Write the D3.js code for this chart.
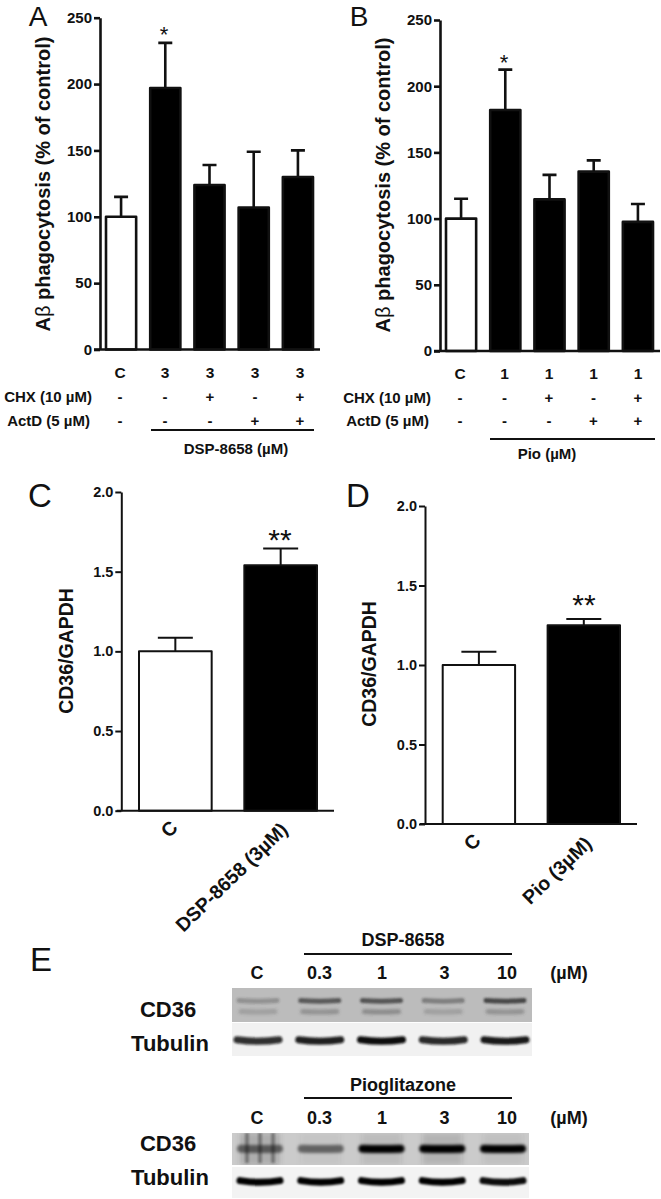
<!DOCTYPE html>
<html>
<head>
<meta charset="utf-8">
<style>
  html, body { margin: 0; padding: 0; background: #fff; }
  svg { display: block; }
  text { font-family: "Liberation Sans", Arial, sans-serif; fill: #111; }
</style>
</head>
<body>
<svg width="661" height="1199"></svg>
<script src="https://cdn.jsdelivr.net/npm/d3@7"></script>
<script>
/* -------------------------
   DATA
--------------------------*/
const groupsAB = ["C", "T1", "T2", "T3", "T4"];

const valuesA = [100, 197, 124, 107, 130];
const errorsA = [115, 231, 139, 149, 150];
const doseA = ["C", "3", "3", "3", "3"];

const valuesB = [100, 182, 114.5, 135.5, 97.5];
const errorsB = [115, 212.5, 133, 144, 111];
const doseB = ["C", "1", "1", "1", "1"];

const chxRow = ["-", "-", "+", "-", "+"];
const actdRow = ["-", "-", "-", "+", "+"];

const ticksAB = [0, 50, 100, 150, 200, 250];
const ticksCD = [0, 0.5, 1, 1.5, 2];

const groupsCD = ["C", "T"];
const valuesC = [1.0, 1.54];
const errorsC = [1.086, 1.645];
const valuesD = [1.0, 1.25];
const errorsD = [1.083, 1.29];

const blotDoses = ["C", "0.3", "1", "3", "10"];
// band darkness per lane, 0-1
const cd36UpperTop = [0.3, 0.72, 0.75, 0.45, 0.85];
const cd36LowerTop = [0.25, 0.35, 0.4, 0.25, 0.35];
const tubulinTop = [0.85, 0.92, 1, 0.88, 0.95];
const cd36Bottom = [0.5, 0.5, 1, 1, 1];
const smearBottom = [0.2, 0.05, 0.1, 0.15, 0.08];
const tubulinBottom = [1, 1, 1, 1, 0.95];

/* -------------------------
   HELPERS
--------------------------*/
const svg = d3.select("svg");

const defs = svg.append("defs");
[["blur1", 1.7], ["blur2", 2.6], ["blur3", 1.1]].forEach(([id, s]) => {
  defs.append("filter").attr("id", id)
    .attr("filterUnits", "userSpaceOnUse")
    .attr("x", 200).attr("y", 960).attr("width", 400).attr("height", 239)
    .append("feGaussianBlur").attr("stdDeviation", s);
});

function label(g, x, y, str, size, bold = true, anchor = "middle") {
  return g.append("text")
    .attr("x", x).attr("y", y)
    .attr("dy", "0.35em")
    .attr("text-anchor", anchor)
    .style("font-size", size + "px")
    .style("font-weight", bold ? "bold" : "normal")
    .text(str);
}

function hline(g, x1, x2, y, w) {
  g.append("line").attr("x1", x1).attr("x2", x2).attr("y1", y).attr("y2", y)
    .attr("stroke", "#111").attr("stroke-width", w);
}

/* -------------------------
   BAR PANEL
--------------------------*/
function barPanel(p) {
  const g = svg.append("g");
  const y = d3.scaleLinear().domain(p.domain).range([p.y0, p.yTop]);
  const x = d3.scaleBand().domain(p.groups).range(p.barRange).paddingInner(p.inner);

  const axis = d3.axisLeft(y)
    .tickValues(p.ticks)
    .tickSize(6)
    .tickPadding(p.tickPad)
    .tickSizeOuter(0)
    .tickFormat(p.format);

  const ax = g.append("g").attr("transform", `translate(${p.axisX},0)`).call(axis);
  ax.selectAll("path, line").attr("stroke", "#111").attr("stroke-width", p.lw);
  ax.selectAll("text")
    .style("font-size", p.tickSize + "px")
    .style("font-weight", "bold")
    .style("font-family", '"Liberation Sans", Arial, sans-serif');

  // error bars go behind the bars
  g.selectAll(".err").data(p.groups).enter().append("path")
    .attr("fill", "none")
    .attr("stroke", "#111")
    .attr("stroke-width", p.lw)
    .attr("d", (d, i) => {
      const cx = x(d) + x.bandwidth() / 2;
      const path = d3.path();
      path.moveTo(cx, y(p.values[i]));
      path.lineTo(cx, y(p.errors[i]));
      path.moveTo(cx - p.cap / 2, y(p.errors[i]));
      path.lineTo(cx + p.cap / 2, y(p.errors[i]));
      return path.toString();
    });

  g.selectAll(".bar").data(p.groups).enter().append("rect")
    .attr("x", d => x(d))
    .attr("width", x.bandwidth())
    .attr("y", (d, i) => y(p.values[i]))
    .attr("height", (d, i) => y(0) - y(p.values[i]))
    .attr("fill", (d, i) => i === 0 ? "#fff" : "#000")
    .attr("stroke", "#111")
    .attr("stroke-width", p.lw)
    .attr("stroke-linejoin", "round");

  hline(g, p.baseline[0], p.baseline[1], p.y0, p.lw);

  // y title
  g.append("text")
    .attr("transform", `translate(${p.titleX},${p.titleY}) rotate(-90)`)
    .attr("text-anchor", "middle")
    .attr("dy", "0.35em")
    .style("font-size", p.titleSize + "px")
    .style("font-weight", "bold")
    .call(t => {
      p.title.forEach(([s, b]) => {
        t.append("tspan").style("font-weight", b ? "bold" : "normal").text(s);
      });
    });

  label(g, p.star[0], p.star[1], p.starText, p.starSize, false);
  return { g, x, y };
}

const fmt0 = d3.format("d");
const fmt1 = d3.format(".1f");
const titleAB = [["A", true], ["β", false], [" phagocytosis (% of control)", true]];
const titleCD = [["CD36/GAPDH", true]];

function rowsAB(g, xs, dose, rowY, labelX) {
  groupsAB.forEach((d, i) => {
    label(g, xs(d), rowY[0], dose[i], 15.5);
    label(g, xs(d), rowY[1], chxRow[i], 15);
    label(g, xs(d), rowY[2], actdRow[i], 15);
  });
  label(g, labelX, rowY[1], "CHX (10 µM)", 15, true, "end");
  label(g, labelX - 2, rowY[2], "ActD (5 µM)", 15, true, "end");
}

/* -------------------------
   PANEL A
--------------------------*/
const panelA = barPanel({
  groups: groupsAB, values: valuesA, errors: errorsA, ticks: ticksAB,
  domain: [0, 250], y0: 349.5, yTop: 17.7, axisX: 100, barRange: [106, 313], inner: 0.318,
  baseline: [94, 320], lw: 2.6, cap: 14, tickSize: 15, tickPad: 2, format: fmt0,
  title: titleAB, titleX: 43, titleY: 184, titleSize: 20,
  star: [164, 34], starText: "*", starSize: 22
});
rowsAB(panelA.g, d3.scalePoint().domain(groupsAB).range([120, 300]), doseA, [373, 397, 421], 92);
hline(panelA.g, 151, 314, 430, 2);
label(panelA.g, 236, 449, "DSP-8658 (µM)", 15);
label(svg, 38, 16, "A", 28, false);

/* -------------------------
   PANEL B
--------------------------*/
const panelB = barPanel({
  groups: groupsAB, values: valuesB, errors: errorsB, ticks: ticksAB,
  domain: [0, 250], y0: 351, yTop: 20, axisX: 440, barRange: [446, 653], inner: 0.318,
  baseline: [434, 660], lw: 2.6, cap: 14, tickSize: 15, tickPad: 2, format: fmt0,
  title: titleAB, titleX: 383, titleY: 185, titleSize: 20,
  star: [504, 62], starText: "*", starSize: 22
});
rowsAB(panelB.g, d3.scalePoint().domain(groupsAB).range([460, 638]), doseB, [374, 398, 421], 431);
hline(panelB.g, 490, 655, 439, 2);
label(panelB.g, 547, 454, "Pio (µM)", 15);
label(svg, 359, 16, "B", 28, false);

/* -------------------------
   PANELS C, D
--------------------------*/
function rotated(g, x, y, str, size) {
  g.append("text")
    .attr("transform", `translate(${x},${y}) rotate(-44)`)
    .attr("text-anchor", "end")
    .style("font-size", size + "px")
    .style("font-weight", "bold")
    .text(str);
}

const panelC = barPanel({
  groups: groupsCD, values: valuesC, errors: errorsC, ticks: ticksCD,
  domain: [0, 2], y0: 810.7, yTop: 492, axisX: 121.3, barRange: [139, 317], inner: 0.31,
  baseline: [116.7, 334], lw: 2, cap: 35, tickSize: 14.5, tickPad: 2, format: fmt1,
  title: titleCD, titleX: 65.7, titleY: 651, titleSize: 19.5,
  star: [280, 539], starText: "**", starSize: 30
});
rotated(panelC.g, 179, 829, "C", 19.5);
rotated(panelC.g, 289, 831, "DSP-8658 (3µM)", 19.5);
label(svg, 40, 495, "C", 33, false);

const panelD = barPanel({
  groups: groupsCD, values: valuesD, errors: errorsD, ticks: ticksCD,
  domain: [0, 2], y0: 824, yTop: 506, axisX: 425, barRange: [442.7, 620], inner: 0.31,
  baseline: [420, 637], lw: 2, cap: 35, tickSize: 14.5, tickPad: 2, format: fmt1,
  title: titleCD, titleX: 369, titleY: 664, titleSize: 19.5,
  star: [584, 604], starText: "**", starSize: 30
});
rotated(panelD.g, 482, 842, "C", 19.5);
rotated(panelD.g, 593, 845, "Pio (3µM)", 19.5);
label(svg, 358, 495, "D", 33, false);

/* -------------------------
   PANEL E (BLOTS)
--------------------------*/
label(svg, 41, 959, "E", 33, false);

function blot(g, x0, x1, y0, y1, bg, clipId) {
  defs.append("clipPath").attr("id", clipId)
    .append("rect").attr("x", x0).attr("y", y0).attr("width", x1 - x0).attr("height", y1 - y0);
  g.append("rect").attr("x", x0).attr("y", y0).attr("width", x1 - x0).attr("height", y1 - y0)
    .attr("fill", bg);
  return g.append("g").attr("clip-path", `url(#${clipId})`);
}

// one band per lane: a curved stroke, blurred, darker for higher values
function bands(g, lanes, vals, yc, halfW, thick, sag, blurId, color = "#000") {
  g.append("g").attr("filter", `url(#${blurId})`)
    .selectAll("path").data(blotDoses).enter().append("path")
    .attr("fill", "none")
    .attr("stroke", color)
    .attr("stroke-width", thick)
    .attr("stroke-linecap", "round")
    .attr("opacity", (d, i) => vals[i])
    .attr("d", d => {
      const cx = lanes(d), path = d3.path();
      path.moveTo(cx - halfW, yc - sag);
      path.quadraticCurveTo(cx, yc + sag * 1.5, cx + halfW, yc - sag);
      return path.toString();
    });
}

function doseRow(g, lanes, y, head, headY, lineY) {
  blotDoses.forEach(d => label(g, lanes(d), y, d, 18));
  label(g, 569, y, "(µM)", 18);
  label(g, 403, headY, head, 18);
  hline(g, 304, 512, lineY, 2);
}

const eGroup = svg.append("g");
const labelLanes = d3.scalePoint().domain(blotDoses).range([257, 507]);

// top blots
doseRow(eGroup, labelLanes, 973, "DSP-8658", 940, 954);
label(eGroup, 168, 1009, "CD36", 22);
label(eGroup, 170, 1043, "Tubulin", 22);

const lanesTop = d3.scalePoint().domain(blotDoses).range([258, 505]);
const topCd36 = blot(eGroup, 232, 532, 988, 1022, "#bcbcbc", "clipTop1");
bands(topCd36, lanesTop, cd36UpperTop, 1001, 19, 5, 0.6, "blur3", "#333");
bands(topCd36, lanesTop, cd36LowerTop, 1012, 17, 5, 0.4, "blur1", "#444");
const topTub = blot(eGroup, 232, 532, 1023, 1056, "#f1f1f1", "clipTop2");
bands(topTub, lanesTop, tubulinTop, 1041, 21, 7, 1.2, "blur3", "#111");

// bottom blots
doseRow(eGroup, labelLanes, 1118, "Pioglitazone", 1085, 1098);
label(eGroup, 168, 1143, "CD36", 22);
label(eGroup, 170, 1177, "Tubulin", 22);

const lanesBottom = d3.scalePoint().domain(blotDoses).range([260, 503]);
const botCd36 = blot(eGroup, 232, 529, 1133, 1165, "#cbcbcb", "clipBot1");
botCd36.append("g").attr("filter", "url(#blur2)")
  .selectAll("rect").data(blotDoses).enter().append("rect")
  .attr("x", d => lanesBottom(d) - 20).attr("width", 40)
  .attr("y", 1133).attr("height", 32)
  .attr("fill", "#333")
  .attr("opacity", (d, i) => smearBottom[i]);
// the C lane of this blot has vertical streaks
botCd36.append("g").attr("filter", "url(#blur3)")
  .selectAll("rect").data([-13, 0, 13]).enter().append("rect")
  .attr("x", d => lanesBottom("C") + d - 2).attr("width", 4)
  .attr("y", 1133).attr("height", 30)
  .attr("fill", "#444")
  .attr("opacity", 0.5);
bands(botCd36, lanesBottom, cd36Bottom, 1149, 19, 8, 0.3, "blur1");
const botTub = blot(eGroup, 232, 529, 1167, 1198, "#f3f3f3", "clipBot2");
bands(botTub, lanesBottom, tubulinBottom, 1182, 20, 7, 1.4, "blur3");
</script>
</body>
</html>
